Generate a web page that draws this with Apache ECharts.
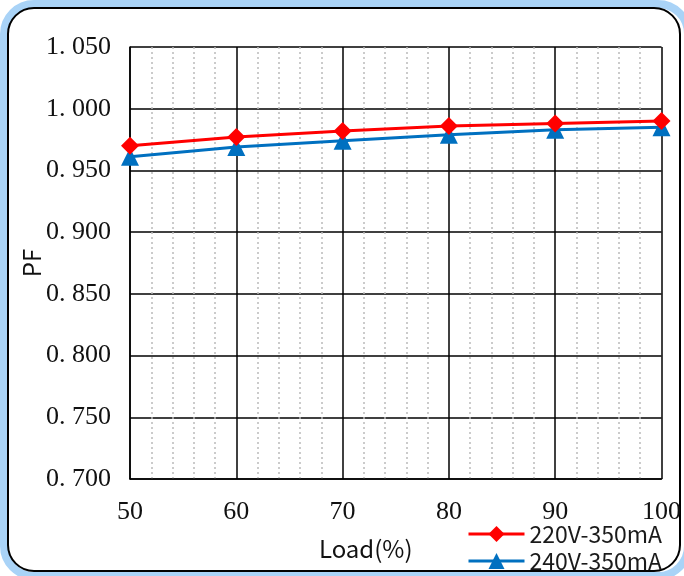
<!DOCTYPE html>
<html><head><meta charset="utf-8">
<script src="https://cdn.jsdelivr.net/npm/echarts@6/dist/echarts.min.js"></script>
<style>html,body{margin:0;padding:0;background:#fff}#c{width:684px;height:576px}</style>
</head><body><div id="c"></div>
<script>
const loads = [50, 60, 70, 80, 90, 100];
const pf220 = [0.970, 0.977, 0.982, 0.986, 0.988, 0.990];
const pf240 = [0.961, 0.969, 0.974, 0.979, 0.983, 0.985];
const seriesNames = ['220V-350mA', '240V-350mA'];

const legendText = {fontFamily:'Noto Sans CJK SC', fontSize:23, color:'#1a1a1a', lineHeight:26};
const chart = echarts.init(document.getElementById('c'));
chart.setOption({
  animation: false,
  backgroundColor: '#fff',
  graphic: [
    {type:'rect', shape:{x:4,y:4,width:684,height:572,r:30}, style:{fill:'none',stroke:'#a9d3f7',lineWidth:8}, z:-10},
    {type:'rect', shape:{x:8,y:8,width:672,height:563,r:26}, style:{fill:'#fff',stroke:'#000',lineWidth:2}, z:-9}
  ],
  grid: {left:130, right:21, top:47, bottom:97},
  legend: [
    {left:467, top:521, padding:0, itemWidth:56, itemHeight:20, itemGap:0, lineStyle:{width:3}, textStyle:legendText, data:[seriesNames[0]]},
    {left:467, top:548, padding:0, itemWidth:56, itemHeight:20, itemGap:0, lineStyle:{width:3}, textStyle:legendText, data:[seriesNames[1]]}
  ],
  xAxis: {
    type:'value', min:50, max:100, interval:10,
    name:'Load(%)', nameLocation:'middle', nameGap:58,
    nameTextStyle:{fontFamily:'Noto Sans CJK SC', fontSize:24, color:'#111', padding:[0,60,0,0]},
    axisLine:{lineStyle:{color:'#000',width:1.5}},
    axisTick:{show:false},
    axisLabel:{fontFamily:'Liberation Serif', fontSize:26, color:'#111', margin:20},
    splitLine:{lineStyle:{color:'#000',width:1.5}},
    minorTick:{show:false, splitNumber:5},
    minorSplitLine:{show:true, lineStyle:{color:'#bbb',type:[2,3],width:1.5}}
  },
  yAxis: {
    type:'value', min:0.7, max:1.05, interval:0.05,
    name:'PF', nameLocation:'middle', nameGap:86, nameRotate:90, nameMoveOverlap:false,
    nameTextStyle:{fontFamily:'Noto Sans CJK SC', fontSize:24, color:'#111'},
    axisLine:{show:true, lineStyle:{color:'#000',width:1.5}},
    axisTick:{show:false},
    axisLabel:{fontFamily:'Liberation Serif', fontSize:26, color:'#111', margin:19,
      formatter: v => v.toFixed(3).replace('.', '. ')},
    splitLine:{lineStyle:{color:'#000',width:1.5}}
  },
  series: [
    {name:seriesNames[0], type:'line', data:loads.map((x,i)=>[x,pf220[i]]),
     symbol:'diamond', symbolSize:18, lineStyle:{color:'#ff0000',width:3},
     itemStyle:{color:'#ff0000'}, z:3},
    {name:seriesNames[1], type:'line', data:loads.map((x,i)=>[x,pf240[i]]),
     symbol:'triangle', symbolSize:18, lineStyle:{color:'#0070c0',width:3},
     itemStyle:{color:'#0070c0'}, z:2}
  ]
});
</script></body></html>
